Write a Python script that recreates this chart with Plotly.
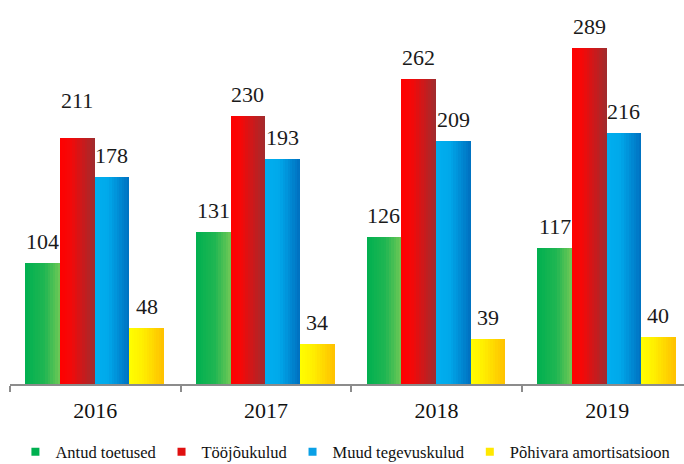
import plotly.graph_objects as go

# Expense categories per year (thousand euros)
years = ["2016", "2017", "2018", "2019"]
series_names = ["Antud toetused", "Tööjõukulud", "Muud tegevuskulud", "Põhivara amortisatsioon"]
antud_toetused = [104, 131, 126, 117]
toojoukulud = [211, 230, 262, 289]
muud_tegevuskulud = [178, 193, 209, 216]
pohivara_amortisatsioon = [48, 34, 39, 40]
series_values = [antud_toetused, toojoukulud, muud_tegevuskulud, pohivara_amortisatsioon]

# Horizontal colour ramps used to shade each bar (stop position, rgb)
ramps = [
    [(0.0, (0, 176, 80)), (0.55, (32, 182, 82)), (1.0, (112, 200, 86))],
    [(0.0, (255, 0, 0)), (0.3, (245, 8, 8)), (1.0, (160, 44, 46))],
    [(0.0, (0, 176, 240)), (0.4, (0, 168, 234)), (1.0, (0, 112, 192))],
    [(0.0, (255, 255, 0)), (0.35, (255, 240, 0)), (1.0, (255, 192, 0))],
]
legend_colors = ["#00B050", "#E01010", "#0AA0E6", "#FFE800"]

bar_w = 0.203
group_start = -0.41
n_slices = 14
label_lift = {("2016", 1): 16}
serif = "Liberation Serif"


def ramp_color(ramp, t):
    for (t0, c0), (t1, c1) in zip(ramp, ramp[1:]):
        if t0 <= t <= t1:
            f = (t - t0) / (t1 - t0) if t1 > t0 else 0
            c = [round(a + (b - a) * f) for a, b in zip(c0, c1)]
            return f"rgb({c[0]},{c[1]},{c[2]})"
    c = ramp[-1][1]
    return f"rgb({c[0]},{c[1]},{c[2]})"


fig = go.Figure()
annotations = []

for s, (name, vals) in enumerate(zip(series_names, series_values)):
    base = group_start + s * bar_w
    dw = bar_w / n_slices
    # each slice spans from its start to the bar's right edge; later slices
    # cover the earlier ones so the shading has no seams
    for k in range(n_slices):
        t = (k + 0.5) / n_slices
        fig.add_trace(go.Bar(
            x=years, y=vals,
            offset=base + k * dw, width=bar_w - k * dw,
            marker=dict(color=ramp_color(ramps[s], t), line=dict(width=0)),
            showlegend=False, hoverinfo="skip" if k else "x+y+name",
            name=name,
        ))
    # legend entry
    fig.add_trace(go.Scatter(
        x=[None], y=[None], mode="markers", name=name,
        marker=dict(symbol="square", size=8, color=legend_colors[s]),
    ))
    for i, (yr, v) in enumerate(zip(years, vals)):
        annotations.append(dict(
            x=i + base + bar_w / 2, y=v, xref="x", yref="y",
            text=str(v), showarrow=False, yanchor="bottom",
            yshift=7 + label_lift.get((yr, s), 0),
            font=dict(family=serif, size=22, color="#1a1a1a"),
        ))

fig.update_layout(
    width=684, height=464,
    margin=dict(l=10, r=0, t=10, b=80),
    paper_bgcolor="white", plot_bgcolor="white",
    font=dict(family=serif),
    barmode="overlay", bargap=0,
    annotations=annotations,
    showlegend=True,
    legend=dict(
        orientation="h", xref="container", yref="container",
        x=0.505, xanchor="center", y=0.026, yanchor="middle",
        font=dict(family=serif, size=16.5, color="#111"),
        itemwidth=30, tracegroupgap=0,
    ),
    xaxis=dict(
        type="category", range=[-0.5, 3.45],
        showline=True, linecolor="#8c8c8c", linewidth=1.5,
        ticks="outside", tickson="boundaries", ticklen=6,
        tickcolor="#8c8c8c", tickwidth=1.5,
        ticklabelstandoff=6,
        tickfont=dict(family=serif, size=22, color="#111"),
        showgrid=False, zeroline=False, fixedrange=True,
    ),
    yaxis=dict(
        range=[0, 321.3], visible=False, showgrid=False, zeroline=False,
    ),
)

fig.write_html("out.html")
